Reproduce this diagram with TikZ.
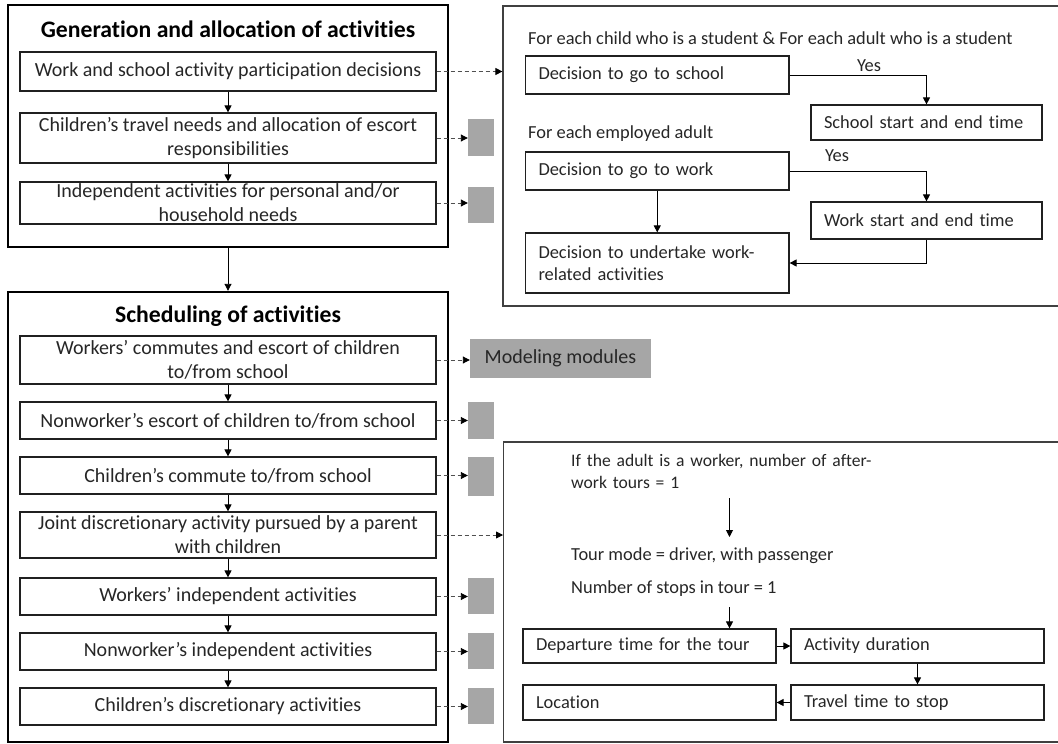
\documentclass[tikz,border=0pt]{standalone}
\usepackage{fontspec}
\setmainfont{Carlito}[Ligatures=NoCommon]
\usetikzlibrary{arrows.meta,calc}
\definecolor{ink}{HTML}{262626}
\definecolor{boxline}{HTML}{202020}
\definecolor{panelline}{HTML}{404040}
\definecolor{modgrey}{HTML}{A6A6A6}
\definecolor{dashgrey}{HTML}{505050}
\begin{document}
\begin{tikzpicture}[x=1pt,y=-1pt,
  txt/.style={text=ink, font=\fontsize{18.4}{22}\selectfont},
  bigtxt/.style={text=ink, font=\fontsize{20}{24}\selectfont},
  headtxt/.style={text=black, font=\fontsize{23.7}{28}\selectfont\bfseries},
  outerbox/.style={draw=black, line width=2.4pt, inner sep=0pt},
  lbox/.style={draw=boxline, line width=1.2pt, minimum width=416pt, inner sep=0pt, align=center, bigtxt},
  rbox/.style={draw=boxline, line width=1.2pt, inner xsep=13pt, inner ysep=0pt, align=left, txt},
  panel/.style={draw=panelline, line width=1.2pt, inner sep=0pt},
  greybox/.style={fill=modgrey, draw=none, inner sep=0pt},
  plain/.style={txt, inner sep=0pt, align=left, anchor=west},
  arr/.style={-{Triangle[length=7pt,width=7pt,color=black]}, line width=0.9pt, black},
  dasharr/.style={-{Triangle[length=7pt,width=7pt,color=black]}, line width=0.9pt, dashgrey, dash pattern=on 4pt off 3pt}
]
\useasboundingbox (0,0) rectangle (1058,744);

% ---------- Generation and allocation of activities ----------
\node[outerbox, minimum width=440pt, minimum height=242pt] (gen) at (228,126) {};
\node[headtxt] (gentitle) at (228,29) {Generation and allocation of activities};
\node[lbox, minimum height=39pt] (g1) at (228,71.5) {Work and school activity participation decisions};
\node[lbox, minimum height=50pt] (g2) at (228,138) {Children’s travel needs and allocation of escort\\responsibilities};
\node[lbox, minimum height=42pt] (g3) at (228,203) {Independent activities for personal and/or\\household needs};
\node[greybox, minimum width=26pt, minimum height=37pt] (gq2) at (481,137.5) {};
\node[greybox, minimum width=26pt, minimum height=36pt] (gq3) at (481,205) {};
\draw[arr] (g1) -- (g2);
\draw[arr] (g2) -- (g3);
\draw[dasharr] (g2.east) -- (g2.east -| gq2.west);
\draw[dasharr] (g3.east) -- (g3.east -| gq3.west);

% ---------- work / school participation detail ----------
\node[panel, minimum width=557pt, minimum height=300pt] (pa) at (781.5,156) {};
\draw[dasharr] (g1.east) -- (g1.east -| pa.west);
\node[plain] (lchild) at (528,38) {For each child who is a student \& For each adult who is a student};
\node[rbox, text width=237.5pt, minimum height=38pt] (school) at (657.25,75) {Decision to go to school};
\node[rbox, text width=205pt, minimum height=35pt] (schooltime) at (926.5,122.5) {School start and end time};
\node[txt, inner sep=0pt] (yes1) at (869,66) {Yes};
\draw[arr] (school.east) -| (schooltime.north);
\node[plain] (lemp) at (528,134) {For each employed adult};
\node[rbox, text width=237.5pt, minimum height=38pt] (work) at (657.25,171) {Decision to go to work};
\node[rbox, text width=205pt, minimum height=37pt] (worktime) at (926.5,220.5) {Work start and end time};
\node[txt, inner sep=0pt] (yes2) at (837,156) {Yes};
\draw[arr] (work.east) -| (worktime.north);
\node[rbox, text width=237.5pt, minimum height=60pt] (under) at (657.25,263) {Decision to undertake work-\\related activities};
\draw[arr] (work) -- (under);
\draw[arr] (worktime.south) |- (under.east);

% ---------- Scheduling of activities ----------
\node[outerbox, minimum width=440pt, minimum height=450pt] (sched) at (228,517) {};
\draw[arr] (gen.south) -- (sched.north);
\node[headtxt] (schedtitle) at (228,316) {Scheduling of activities};
\node[lbox, minimum height=48pt] (s1) at (228,360) {Workers’ commutes and escort of children\\to/from school};
\node[lbox, minimum height=37pt] (s2) at (228,420.5) {Nonworker’s escort of children to/from school};
\node[lbox, minimum height=37pt] (s3) at (228,475.5) {Children’s commute to/from school};
\node[lbox, minimum height=46pt] (s4) at (228,535) {Joint discretionary activity pursued by a parent\\with children};
\node[lbox, minimum height=37pt] (s5) at (228,596.5) {Workers’ independent activities};
\node[lbox, minimum height=37pt] (s6) at (228,651.5) {Nonworker’s independent activities};
\node[lbox, minimum height=37pt] (s7) at (228,706.5) {Children’s discretionary activities};
\foreach \a/\b in {s1/s2,s2/s3,s3/s4,s4/s5,s5/s6,s6/s7} \draw[arr] (\a) -- (\b);

\node[greybox, minimum width=181pt, minimum height=39pt, bigtxt] (mm) at (560.5,358) {Modeling modules};
\node[greybox, minimum width=26pt, minimum height=37pt] (q2) at (481,420) {};
\node[greybox, minimum width=26pt, minimum height=39pt] (q3) at (481,476.5) {};
\node[greybox, minimum width=26pt, minimum height=36pt] (q5) at (481,596) {};
\node[greybox, minimum width=26pt, minimum height=36pt] (q6) at (481,651) {};
\node[greybox, minimum width=26pt, minimum height=36pt] (q7) at (481,706) {};
\draw[dasharr] (s1.east) -- (s1.east -| mm.west);
\draw[dasharr] (s2.east) -- (s2.east -| q2.west);
\draw[dasharr] (s3.east) -- (s3.east -| q3.west);
\draw[dasharr] (s5.east) -- (s5.east -| q5.west);
\draw[dasharr] (s6.east) -- (s6.east -| q6.west);
\draw[dasharr] (s7.east) -- (s7.east -| q7.west);

% ---------- joint discretionary activity detail ----------
\node[panel, minimum width=556.4pt, minimum height=300pt] (pb) at (781.8,592) {};
\draw[dasharr] (s4.east) -- (s4.east -| pb.west);
\node[plain, font=\fontsize{17.6}{22}\selectfont, text width=320pt] (t1) at (571,471) {If the adult is a worker, number of after-\\work tours = 1};
\coordinate (ta) at (729.5,498);
\coordinate (tb) at (729.5,537);
\draw[arr] (ta) -- (tb);
\node[plain] (t2) at (571,556) {Tour mode = driver, with passenger};
\node[plain] (t3) at (571,589) {Number of stops in tour = 1};
\node[rbox, text width=227pt, minimum height=34pt] (dep) at (649.5,646) {Departure time for the tour};
\node[rbox, text width=227pt, minimum height=34pt] (act) at (917.5,646) {Activity duration};
\node[rbox, text width=227pt, minimum height=35pt] (loc) at (649.5,702.5) {Location};
\node[rbox, text width=227pt, minimum height=35pt] (trv) at (917.5,702.5) {Travel time to stop};
\coordinate (tc) at (729.5,607);
\draw[arr] (tc) -- (tc |- dep.north);
\draw[arr] (dep) -- (act);
\draw[arr] (act) -- (trv);
\draw[arr] (trv) -- (loc);
\end{tikzpicture}
\end{document}
